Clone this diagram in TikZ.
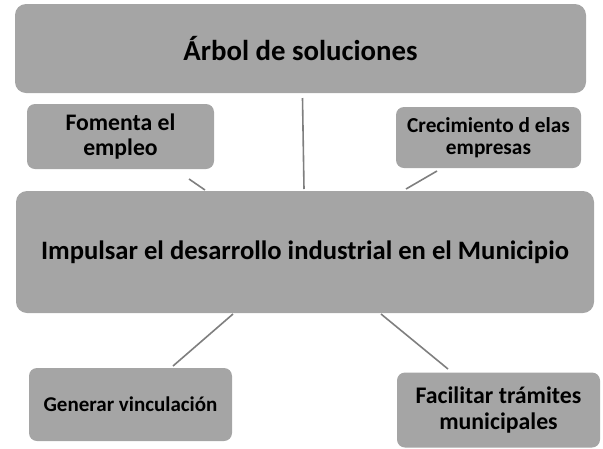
\documentclass[tikz,border=0pt]{standalone}
\usepackage{fontspec}
\setmainfont{Carlito}
\definecolor{boxgray}{HTML}{A5A5A5}
\definecolor{linegray}{HTML}{7F7F7F}
\begin{document}
\begin{tikzpicture}[x=1pt,y=-1pt,
  box/.style={draw=none, fill=boxgray, rounded corners=11pt, inner sep=0pt,
    align=center, font=\bfseries, text=black},
  smallbox/.style={box, rounded corners=8pt},
  conn/.style={draw=linegray, line width=1.6pt}]
\useasboundingbox (0,0) rectangle (603,448);
\node[box, minimum width=571pt, minimum height=89pt, font=\bfseries\fontsize{28.8}{30}\selectfont] (top) at (300.5,48.5) {Árbol de soluciones};
\node[smallbox, minimum width=187pt, minimum height=65pt, font=\bfseries\fontsize{23.7}{24.5}\selectfont] (fom) at (120.5,136.5) {Fomenta el\\empleo};
\node[smallbox, minimum width=185pt, minimum height=61pt, font=\bfseries\fontsize{21.3}{22.5}\selectfont] (crec) at (488.5,137.5) {Crecimiento d elas\\empresas};
\node[box, minimum width=578pt, minimum height=122pt, font=\bfseries\fontsize{26.6}{28}\selectfont] (main) at (305,252) {Impulsar el desarrollo industrial en el Municipio};
\node[smallbox, minimum width=203pt, minimum height=73pt, font=\bfseries\fontsize{21}{22}\selectfont] (gen) at (130.5,404.5) {Generar vinculación};
\node[smallbox, minimum width=203pt, minimum height=75pt, font=\bfseries\fontsize{23.8}{25.5}\selectfont] (fac) at (498.5,410) {Facilitar trámites\\municipales};
\coordinate (c1a) at (302.5,98);
\coordinate (c1b) at (304,189);
\coordinate (c2a) at (189,179);
\coordinate (c2b) at (205,190);
\coordinate (c3a) at (437,171);
\coordinate (c3b) at (406,189);
\coordinate (c4a) at (233,314);
\coordinate (c4b) at (173,366);
\coordinate (c5a) at (381,314);
\coordinate (c5b) at (448,369);
\draw[conn] (c1a) -- (c1b);
\draw[conn] (c2a) -- (c2b);
\draw[conn] (c3a) -- (c3b);
\draw[conn] (c4a) -- (c4b);
\draw[conn] (c5a) -- (c5b);
\end{tikzpicture}
\end{document}
